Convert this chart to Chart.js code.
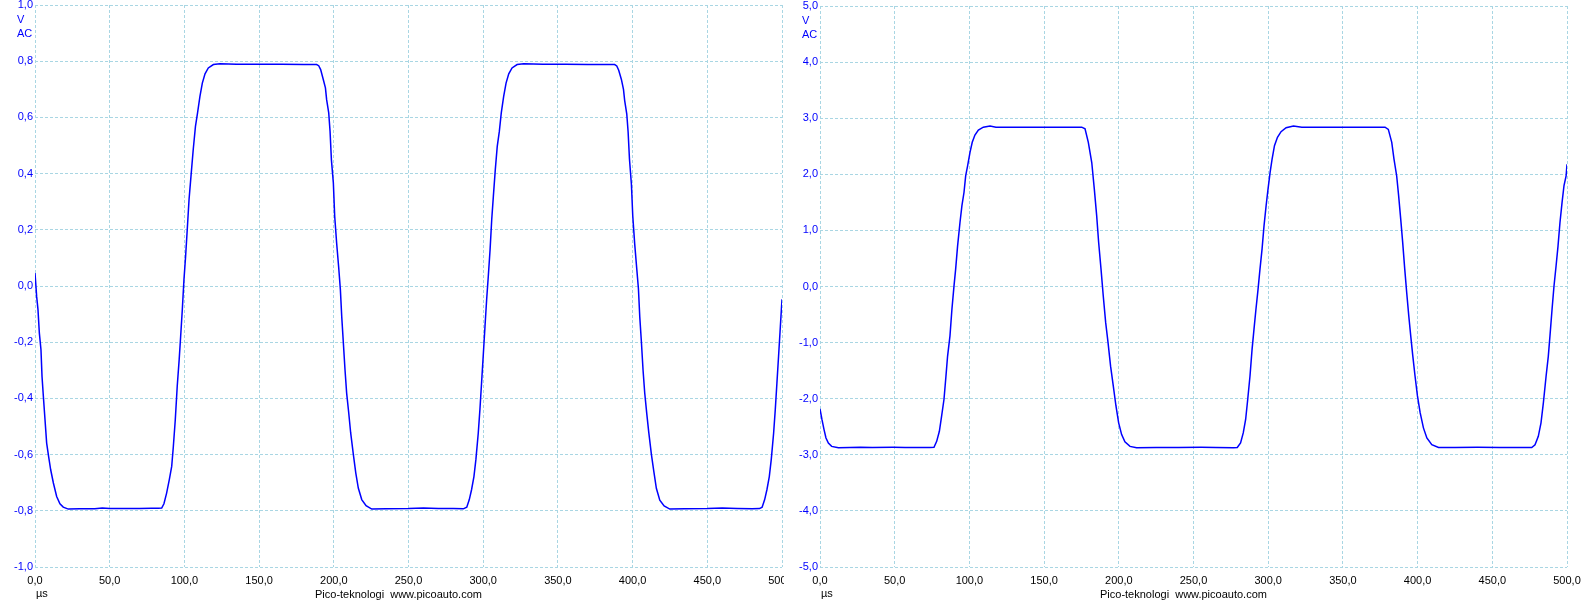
<!DOCTYPE html>
<html>
<head>
<meta charset="utf-8">
<title>Pico scope - two channels</title>
<script src="https://cdn.jsdelivr.net/npm/chart.js@4/dist/chart.umd.min.js"></script>
<style>
  html, body { margin: 0; padding: 0; background: #fff; }
  #wrap { position: relative; width: 1591px; height: 600px; overflow: hidden; }
  canvas { position: absolute; top: 0; }
  #scopeA { left: 0; }
  #scopeB { left: 784px; }
</style>
</head>
<body>
<div id="wrap">
  <canvas id="scopeA" width="784" height="600"></canvas>
  <canvas id="scopeB" width="807" height="600"></canvas>
</div>
<script>
// ============================================
// DATA (read off the scope captures)
// ============================================
const timeTicks = [0, 50, 100, 150, 200, 250, 300, 350, 400, 450, 500]; // µs
const leftVoltTicks = [-1.0, -0.8, -0.6, -0.4, -0.2, 0.0, 0.2, 0.4, 0.6, 0.8, 1.0];
const rightVoltTicks = [-5, -4, -3, -2, -1, 0, 1, 2, 3, 4, 5];

// Channel A (left panel)
const leftTime = [
  0, 1.1, 2, 2.9, 4, 4.7, 5.6, 6.7, 7.8, 9.1, 10.5, 12.3, 14.5, 16.7, 18.9, 22.3,
  30, 40, 45, 50, 60, 70, 78, 82.5,
  84.8, 86.3, 88.1, 89.9, 91.5, 92.6, 93.9, 95.2, 96.5, 97.5, 98.6, 99.7, 100.8, 101.9, 103.1, 104.4, 105.9, 107.4, 108.8, 110.4, 112, 113.8, 116, 119.4, 123.8,
  135, 150, 165, 180, 188.5,
  189.9, 191.2, 193, 194.4, 195.2, 196.6, 197.5, 198.4, 199.7, 200.6, 201.9, 203.3, 204.4, 205.3, 206.4, 207.5, 208.6, 210, 211.3, 213.1, 214.7, 216.4, 218.7, 221.6, 225.4,
  235, 250, 260, 270, 280, 286.7,
  289, 290.7, 292.2, 293.8, 295.1, 296.7, 297.8, 298.9, 300, 301.2, 302.3, 303.4, 304.6, 305.7, 306.8, 308.1, 309.4, 310.8, 312.1, 313.7, 315.3, 317.1, 319.3, 322.7, 327.1,
  340, 355, 370, 388,
  389.4, 390.7, 392.5, 393.9, 394.7, 396.1, 397, 397.9, 399.2, 400.1, 401.4, 402.8, 403.9, 404.8, 405.9, 407, 408.1, 409.5, 410.8, 412.6, 414.2, 415.9, 418.2, 421.1, 424.9,
  435, 450, 460, 470, 480, 485,
  486.7, 488.4, 489.9, 491.5, 492.8, 494.4, 495.5, 496.6, 497.7, 498.9, 500
];
const leftVolt = [
  0.046, -0.037, -0.084, -0.167, -0.227, -0.322, -0.393, -0.476, -0.559, -0.606, -0.654, -0.701, -0.749, -0.775, -0.787, -0.794,
  -0.793, -0.793, -0.790, -0.792, -0.792, -0.792, -0.791, -0.791,
  -0.790, -0.775, -0.737, -0.689, -0.642, -0.571, -0.476, -0.357, -0.262, -0.179, -0.084, 0.022, 0.105, 0.200, 0.307, 0.390, 0.485, 0.568, 0.616, 0.675, 0.722, 0.755, 0.776, 0.788, 0.791,
  0.789, 0.789, 0.789, 0.788, 0.788,
  0.784, 0.770, 0.734, 0.705, 0.663, 0.616, 0.550, 0.449, 0.367, 0.248, 0.153, 0.064, -0.013, -0.108, -0.203, -0.298, -0.381, -0.452, -0.523, -0.600, -0.665, -0.719, -0.760, -0.782, -0.794,
  -0.793, -0.792, -0.790, -0.792, -0.792, -0.793,
  -0.787, -0.760, -0.725, -0.678, -0.618, -0.523, -0.440, -0.345, -0.250, -0.144, -0.049, 0.034, 0.129, 0.236, 0.319, 0.414, 0.497, 0.550, 0.616, 0.675, 0.722, 0.755, 0.776, 0.788, 0.791,
  0.789, 0.789, 0.788, 0.788,
  0.783, 0.768, 0.735, 0.700, 0.660, 0.612, 0.548, 0.452, 0.362, 0.250, 0.150, 0.060, -0.010, -0.110, -0.200, -0.300, -0.380, -0.455, -0.520, -0.600, -0.660, -0.720, -0.762, -0.783, -0.794,
  -0.793, -0.792, -0.790, -0.792, -0.793, -0.792,
  -0.787, -0.760, -0.725, -0.678, -0.618, -0.523, -0.440, -0.345, -0.250, -0.144, -0.047
];

// Channel B (right panel)
const rightTime = [
  0, 1.3, 2.7, 4.0, 5.6, 7.8, 12.3,
  20, 27, 35, 49, 57, 65, 73.6,
  76.3, 78.1, 79.9, 81.4, 83, 84.3, 85.4, 87, 88.3, 89.7, 90.8, 92.1, 93.7, 95, 96.4, 97.5, 98.8, 100.4, 101.9, 103.7, 106, 109.3, 113.8, 117.8,
  130, 145, 160, 175.2,
  177.4, 179.6, 181.9, 183.6, 185.2, 186.5, 188.1, 189.6, 191.2, 192.8, 194.5, 196.3, 198.1, 199.9, 201.9, 204.1, 207.5, 211.9,
  225, 240, 255, 265, 276.7,
  279.3, 281.5, 283.3, 284.9, 286.3, 287.8, 289.2, 290.5, 291.8, 293.2, 294.5, 295.9, 297.2, 298.6, 299.9, 301.3, 302.6, 304.2, 306.2, 308.6, 312, 316.9, 322.5,
  340, 355, 370, 378.2,
  380.4, 382.7, 384.2, 386, 387.3, 388.7, 390, 391.4, 392.7, 394.1, 395.4, 396.8, 398.3, 399.9, 401.7, 403.9, 406.2, 409.5, 414,
  425, 440, 455, 465, 476.4,
  478.6, 480.8, 482.6, 484.2, 486, 487.5, 488.6, 490, 491.3, 492.7, 494, 495.3, 496.7, 498, 499.4, 500
];
const rightVolt = [
  -2.18, -2.37, -2.55, -2.70, -2.79, -2.85, -2.875,
  -2.87, -2.865, -2.87, -2.866, -2.868, -2.87, -2.87,
  -2.866, -2.76, -2.58, -2.31, -2.01, -1.60, -1.24, -0.88, -0.405, 0.01, 0.31, 0.725, 1.14, 1.44, 1.68, 1.97, 2.15, 2.39, 2.57, 2.70, 2.79, 2.84, 2.86, 2.84,
  2.84, 2.84, 2.84, 2.84,
  2.81, 2.57, 2.21, 1.74, 1.26, 0.79, 0.31, -0.17, -0.64, -1.00, -1.42, -1.77, -2.13, -2.43, -2.64, -2.77, -2.85, -2.875,
  -2.87, -2.868, -2.866, -2.87, -2.875,
  -2.87, -2.79, -2.61, -2.37, -2.01, -1.60, -1.12, -0.76, -0.405, -0.05, 0.31, 0.67, 1.08, 1.44, 1.74, 2.04, 2.27, 2.51, 2.66, 2.76, 2.83, 2.86, 2.84,
  2.84, 2.84, 2.84, 2.84,
  2.80, 2.57, 2.27, 1.97, 1.62, 1.20, 0.79, 0.31, -0.107, -0.525, -0.88, -1.24, -1.60, -1.95, -2.25, -2.52, -2.70, -2.82, -2.87,
  -2.868, -2.866, -2.87, -2.87, -2.87,
  -2.82, -2.67, -2.43, -2.07, -1.60, -1.24, -0.88, -0.405, 0.01, 0.37, 0.725, 1.14, 1.50, 1.80, 1.97, 2.18
];

const unitLabel = 'V';
const couplingLabel = 'AC';
const timeUnit = 'µs';
const footerText = 'Pico-teknologi  www.picoauto.com';

// ============================================
// STYLE
// ============================================
const FONT = '"Liberation Sans", Arial, sans-serif';
const GRID_COLOR = '#a9d6e3';
const TRACE_COLOR = '#0000ff';

Chart.defaults.font.family = FONT;
Chart.defaults.font.size = 11;

// comma decimals like the scope software
function fmt(v) {
  if (Math.abs(v) < 1e-9) v = 0;
  return v.toFixed(1).replace('.', ',');
}

// V / AC at top left, µs and footer under the x axis
const scopeText = {
  id: 'scopeText',
  afterDraw(chart) {
    const { ctx, chartArea } = chart;
    ctx.save();
    ctx.font = '11px ' + FONT;
    ctx.textAlign = 'left';
    ctx.textBaseline = 'alphabetic';
    ctx.fillStyle = TRACE_COLOR;
    ctx.fillText(unitLabel, chartArea.left - 18, chartArea.top + 18);
    ctx.fillText(couplingLabel, chartArea.left - 18, chartArea.top + 31.5);
    ctx.fillStyle = '#000';
    ctx.fillText(timeUnit, chartArea.left + 1, 597);
    ctx.fillText(footerText, chartArea.left + 280, 598);
    ctx.restore();
  }
};

// ============================================
// CHART BUILDER
// ============================================
function createScope(canvasId, times, volts, yTicks, cfg) {
  const ctx = document.getElementById(canvasId).getContext('2d');
  const points = times.map((t, i) => ({ x: t, y: volts[i] }));

  return new Chart(ctx, {
    type: 'line',
    data: {
      datasets: [{
        data: points,
        borderColor: TRACE_COLOR,
        borderWidth: 1.5,
        pointRadius: 0,
        tension: 0,
        fill: false
      }]
    },
    options: {
      responsive: false,
      animation: false,
      layout: { padding: { left: 0, right: cfg.padRight, top: cfg.padTop, bottom: 0 } },
      plugins: { legend: { display: false }, tooltip: { enabled: false } },
      scales: {
        x: {
          type: 'linear',
          min: timeTicks[0],
          max: timeTicks[timeTicks.length - 1],
          afterBuildTicks: (s) => { s.ticks = timeTicks.map(v => ({ value: v })); },
          ticks: { color: '#000', padding: 7, maxRotation: 0, autoSkip: false, callback: (v) => fmt(v) },
          grid: { color: GRID_COLOR, lineWidth: 1, drawTicks: false },
          border: { display: false, dash: [3, 2] },
          afterFit: (s) => { s.height = cfg.xHeight; s.paddingLeft = 0; s.paddingRight = 0; }
        },
        y: {
          type: 'linear',
          min: yTicks[0],
          max: yTicks[yTicks.length - 1],
          afterBuildTicks: (s) => { s.ticks = yTicks.map(v => ({ value: v })); },
          ticks: { color: TRACE_COLOR, padding: 2, autoSkip: false, callback: (v) => fmt(v) },
          grid: { color: GRID_COLOR, lineWidth: 1, drawTicks: false },
          border: { display: false, dash: [3, 2] },
          afterFit: (s) => { s.width = cfg.yWidth; s.paddingTop = 0; s.paddingBottom = 0; }
        }
      }
    },
    plugins: [scopeText]
  });
}

// ============================================
// RENDER
// ============================================
createScope('scopeA', leftTime, leftVolt, leftVoltTicks, { yWidth: 35, padRight: 2, padTop: 5, xHeight: 33 });
createScope('scopeB', rightTime, rightVolt, rightVoltTicks, { yWidth: 36, padRight: 24, padTop: 6, xHeight: 33 });
</script>
</body>
</html>
